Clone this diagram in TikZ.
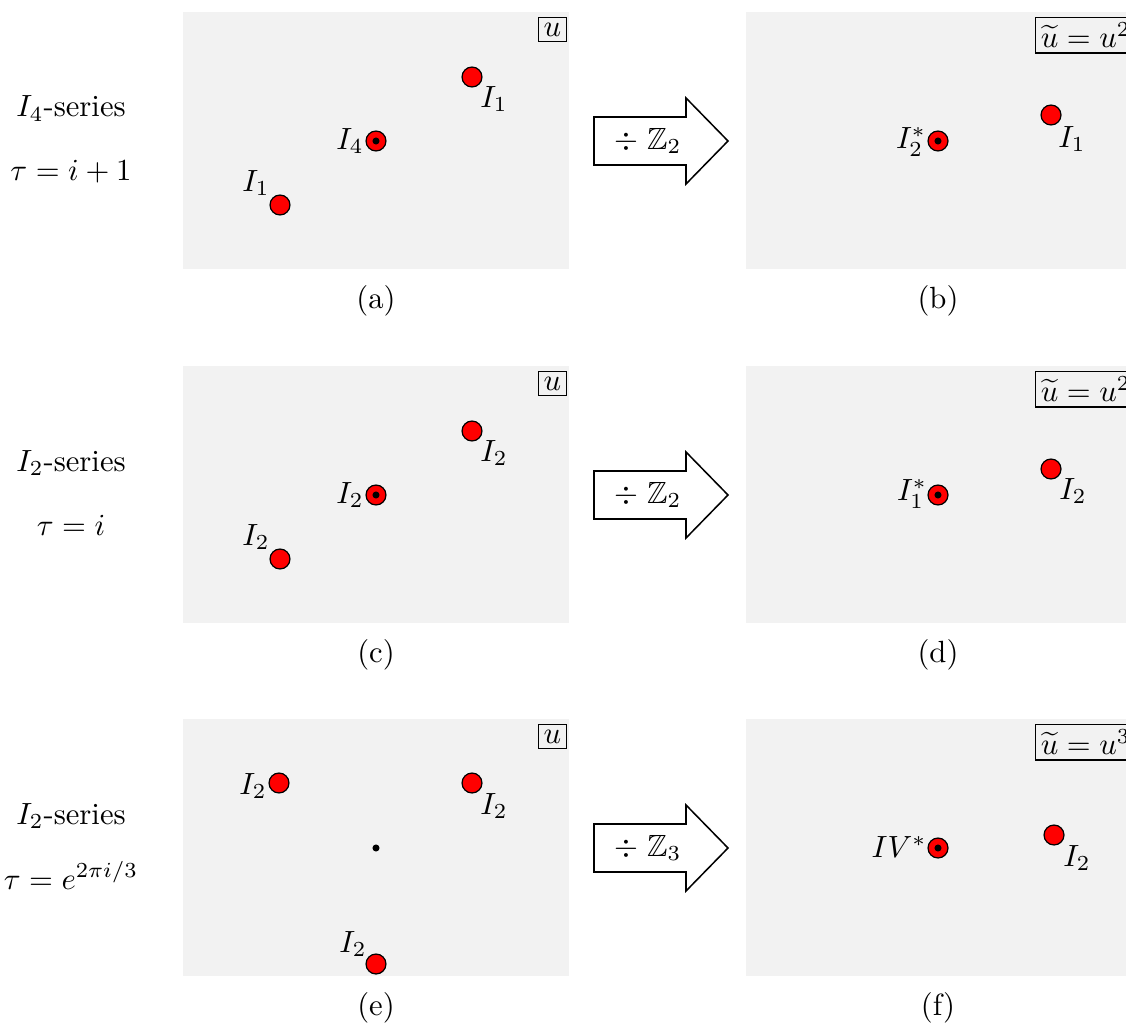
\documentclass[tikz,border=0pt]{standalone}
\usepackage{amsmath,amssymb}
\begin{document}
\begin{tikzpicture}[x=0.326pt,y=-0.326pt,
  panel/.style={fill=gray!10},
  dot/.style={circle,fill=red,draw=black,line width=0.4pt,minimum size=6.5pt,inner sep=0pt},
  core/.style={circle,fill=black,minimum size=2.3pt,inner sep=0pt},
  lbl/.style={inner sep=0pt},
  coordbox/.style={draw,line width=0.4pt,inner sep=1.7pt},
  quot/.style={draw,line width=0.5pt,fill=white,line join=miter},
  captxt/.style={inner sep=0pt},
  side/.style={anchor=base,inner sep=0pt}]
\clip (0,0) rectangle (1126,1024);

% ---------- Row 1 ----------
\begin{scope}
  \node[side] (s1a) at (71,117) {$I_4$-series};
  \node[side] (s1b) at (71,181) {$\tau=i+1$};
  \fill[panel] (183,12) rectangle (569,269);
  \node[coordbox,anchor=north east] (ua) at (567,17) {$u$};
  \node[dot] (a1) at (280,205) {};
  \node[dot] (a0) at (376,141) {};
  \node[core] (a0c) at (a0) {};
  \node[dot] (a2) at (472,77) {};
  \node[lbl] (la1) at (256,183) {$I_1$};
  \node[lbl] (la0) at (350,141) {$I_4$};
  \node[lbl] (la2) at (494,99) {$I_1$};
  \node[captxt] (capa) at (376,301) {(a)};
  \draw[quot] (594,117) -- (686,117) -- (686,98) -- (728,141) -- (686,184) -- (686,165) -- (594,165) -- cycle;
  \node[lbl] (q1) at (648,141) {$\div\;\mathbb{Z}_2$};
  \fill[panel] (746,12) rectangle (1140,269);
  \node[coordbox,anchor=north west] (ub) at (1035,17) {$\widetilde{u}=u^2$};
  \node[dot] (b0) at (938,141) {};
  \node[core] (b0c) at (b0) {};
  \node[dot] (b1) at (1051,115) {};
  \node[lbl] (lb0) at (911,142) {$I_2^*$};
  \node[lbl] (lb1) at (1072,139) {$I_1$};
  \node[captxt] (capb) at (938,301) {(b)};
\end{scope}

% ---------- Row 2 ----------
\begin{scope}[shift={(0,354)}]
  \node[side] (s2a) at (71,117) {$I_2$-series};
  \node[side] (s2b) at (71,181) {$\tau=i$};
  \fill[panel] (183,12) rectangle (569,269);
  \node[coordbox,anchor=north east] (uc) at (567,17) {$u$};
  \node[dot] (c1) at (280,205) {};
  \node[dot] (c0) at (376,141) {};
  \node[core] (c0c) at (c0) {};
  \node[dot] (c2) at (472,77) {};
  \node[lbl] (lc1) at (256,183) {$I_2$};
  \node[lbl] (lc0) at (350,141) {$I_2$};
  \node[lbl] (lc2) at (494,99) {$I_2$};
  \node[captxt] (capc) at (376,301) {(c)};
  \draw[quot] (594,117) -- (686,117) -- (686,98) -- (728,141) -- (686,184) -- (686,165) -- (594,165) -- cycle;
  \node[lbl] (q2) at (648,141) {$\div\;\mathbb{Z}_2$};
  \fill[panel] (746,12) rectangle (1140,269);
  \node[coordbox,anchor=north west] (ud) at (1035,17) {$\widetilde{u}=u^2$};
  \node[dot] (d0) at (938,141) {};
  \node[core] (d0c) at (d0) {};
  \node[dot] (d1) at (1051,115) {};
  \node[lbl] (ld0) at (912,140) {$I_1^*$};
  \node[lbl] (ld1) at (1073,137) {$I_2$};
  \node[captxt] (capd) at (938,301) {(d)};
\end{scope}

% ---------- Row 3 ----------
\begin{scope}[shift={(0,707)}]
  \node[side] (s3a) at (71,117) {$I_2$-series};
  \node[side] (s3b) at (71,182) {$\tau=e^{2\pi i/3}$};
  \fill[panel] (183,12) rectangle (569,269);
  \node[coordbox,anchor=north east] (ue) at (567,17) {$u$};
  \node[dot] (e1) at (279,76) {};
  \node[dot] (e2) at (472,76) {};
  \node[dot] (e3) at (376,257) {};
  \node[core] (e0) at (376,141) {};
  \node[lbl] (le1) at (253,79) {$I_2$};
  \node[lbl] (le2) at (494,99) {$I_2$};
  \node[lbl] (le3) at (353,237) {$I_2$};
  \node[captxt] (cape) at (376,301) {(e)};
  \draw[quot] (594,117) -- (686,117) -- (686,98) -- (728,141) -- (686,184) -- (686,165) -- (594,165) -- cycle;
  \node[lbl] (q3) at (648,141) {$\div\;\mathbb{Z}_3$};
  \fill[panel] (746,12) rectangle (1140,269);
  \node[coordbox,anchor=north west] (uf) at (1035,17) {$\widetilde{u}=u^3$};
  \node[dot] (f0) at (938,141) {};
  \node[core] (f0c) at (f0) {};
  \node[dot] (f1) at (1054,128) {};
  \node[lbl] (lf0) at (899,140) {$IV^*$};
  \node[lbl] (lf1) at (1077,151) {$I_2$};
  \node[captxt] (capf) at (938,301) {(f)};
\end{scope}
\end{tikzpicture}
\end{document}
